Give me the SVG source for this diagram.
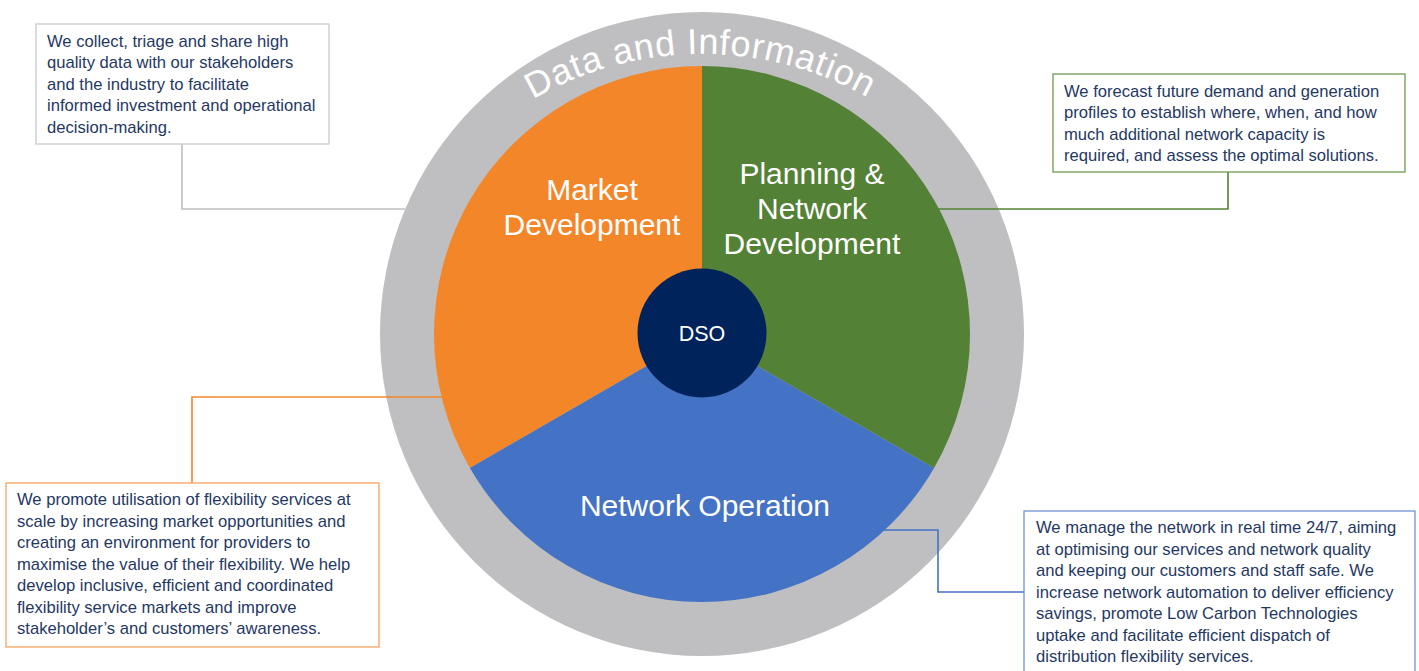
<svg xmlns="http://www.w3.org/2000/svg" width="1419" height="671" viewBox="0 0 1419 671">
<style>
.box{fill:#ffffff;stroke-width:1.3}
.body{font-family:"Liberation Sans",Arial,sans-serif;font-size:16.6px;fill:#1F3864}
.lbl{font-family:"Liberation Sans",Arial,sans-serif;font-size:30px;fill:#ffffff;text-anchor:middle}
.conn{fill:none;stroke-width:1.6}
</style>
<defs>
<path id="arc" d="M365,391 A337,337 0 0 1 1039,391"/>
</defs>
<rect width="1419" height="671" fill="#ffffff"/>

<g id="ring">
<circle cx="702" cy="334" r="322" fill="#BFBFC1"/>
<text font-family="'Liberation Sans',Arial,sans-serif" font-size="36" fill="#ffffff"><textPath href="#arc" startOffset="352" textLength="350" lengthAdjust="spacing">Data and Information</textPath></text>
</g>

<g id="connectors">
<polyline class="conn" stroke="#BFBFBF" points="182,144 182,209 405,209"/>
<polyline class="conn" stroke="#548235" points="1228,172 1228,209 930,209"/>
<polyline class="conn" stroke="#F4862A" points="192,483 192,397 450,397"/>
<polyline class="conn" stroke="#4472C4" points="875,530 938,530 938,592 1024,592"/>
</g>

<g id="market-development">
<path d="M702,334 L469.9,468 A268,268 0 0 1 702,66 Z" fill="#F4862A"/>
<text class="lbl" x="592" y="200">Market</text>
<text class="lbl" x="592" y="235">Development</text>
</g>
<g id="planning-network-development">
<path d="M702,334 L702,66 A268,268 0 0 1 934.1,468 Z" fill="#538135"/>
<text class="lbl" x="812" y="183.5">Planning &amp;</text>
<text class="lbl" x="812" y="218.5">Network</text>
<text class="lbl" x="812" y="253.5">Development</text>
</g>
<g id="network-operation">
<path d="M702,334 L934.1,468 A268,268 0 0 1 469.9,468 Z" fill="#4472C4"/>
<text class="lbl" x="705" y="516">Network Operation</text>
</g>
<g id="dso">
<circle cx="702" cy="333" r="64.5" fill="#00235B"/>
<text x="702" y="341" font-family="'Liberation Sans',Arial,sans-serif" font-size="21.5" fill="#ffffff" text-anchor="middle">DSO</text>
</g>

<g id="box-data">
<rect class="box" x="36" y="24" width="293" height="120" stroke="#C9C9C9"/>
<text class="body"><tspan x="47" y="46.5">We collect, triage and share high</tspan><tspan x="47" y="68">quality data with our stakeholders</tspan><tspan x="47" y="89.5">and the industry to facilitate</tspan><tspan x="47" y="111">informed investment and operational</tspan><tspan x="47" y="132.5">decision-making.</tspan></text>
</g>
<g id="box-planning">
<rect class="box" x="1053" y="74" width="352" height="98" stroke="#6E9B4E"/>
<text class="body"><tspan x="1064" y="96.5">We forecast future demand and generation</tspan><tspan x="1064" y="118">profiles to establish where, when, and how</tspan><tspan x="1064" y="139.5">much additional network capacity is</tspan><tspan x="1064" y="161">required, and assess the optimal solutions.</tspan></text>
</g>
<g id="box-market">
<rect class="box" x="6" y="483" width="373" height="164" stroke="#F4A25E"/>
<text class="body"><tspan x="17" y="505">We promote utilisation of flexibility services at</tspan><tspan x="17" y="526.5">scale by increasing market opportunities and</tspan><tspan x="17" y="548">creating an environment for providers to</tspan><tspan x="17" y="569.5">maximise the value of their flexibility. We help</tspan><tspan x="17" y="591">develop inclusive, efficient and coordinated</tspan><tspan x="17" y="612.5">flexibility service markets and improve</tspan><tspan x="17" y="634">stakeholder’s and customers’ awareness.</tspan></text>
</g>
<g id="box-operation">
<rect class="box" x="1024" y="511" width="391" height="166" stroke="#6F93D3"/>
<text class="body"><tspan x="1036" y="533">We manage the network in real time 24/7, aiming</tspan><tspan x="1036" y="554.5">at optimising our services and network quality</tspan><tspan x="1036" y="576">and keeping our customers and staff safe. We</tspan><tspan x="1036" y="597.5">increase network automation to deliver efficiency</tspan><tspan x="1036" y="619">savings, promote Low Carbon Technologies</tspan><tspan x="1036" y="640.5">uptake and facilitate efficient dispatch of</tspan><tspan x="1036" y="662">distribution flexibility services.</tspan></text>
</g>
</svg>
